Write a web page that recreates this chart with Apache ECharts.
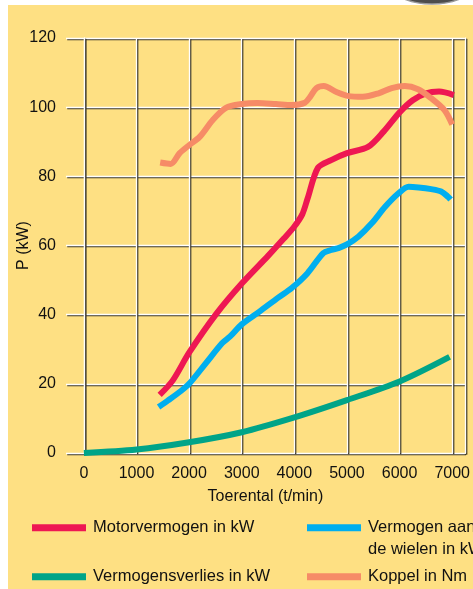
<!DOCTYPE html>
<html>
<head>
<meta charset="utf-8">
<script src="https://cdn.jsdelivr.net/npm/echarts@6/dist/echarts.min.js"></script>
<style>
html,body{margin:0;padding:0;background:#fff;width:473px;height:589px;overflow:hidden;}
#bg{position:absolute;left:8px;top:5px;width:465px;height:584px;background:#FEE083;}
#chart{position:absolute;left:0;top:0;width:473px;height:589px;}
</style>
</head>
<body>
<div id="bg"></div>
<div id="chart"></div>
<script>
// ---- data ----
const xTicks = [0, 1000, 2000, 3000, 4000, 5000, 6000, 7000];

const motorRpm = [1440, 1690, 2000, 2520, 3000, 3500, 3800, 4000, 4150, 4250, 4450, 4700, 5000, 5400, 5700, 6000, 6250, 6500, 6750, 7030];
const motorKw  = [16.8, 21, 29, 40.3, 49, 57, 62, 65.5, 69, 73.5, 82.5, 84.7, 86.7, 88.5, 93, 98.5, 102, 104, 104.5, 103.5];

const wheelRpm = [1420, 1600, 1850, 2000, 2320, 2630, 2780, 3000, 3330, 3700, 3950, 4250, 4550, 4700, 4850, 5000, 5220, 5470, 5725, 5980, 6170, 6360, 6600, 6790, 6920, 6970];
const wheelKw  = [13.3, 15.2, 18, 20, 26, 31.8, 33.7, 37.2, 40.8, 45, 47.7, 52, 57.8, 58.7, 59.3, 60.3, 62.6, 66.4, 71.2, 75.1, 77, 76.8, 76.3, 75.6, 74.1, 73.3];

const lossRpm = [0, 1000, 2000, 3000, 4000, 5000, 6000, 6950];
const lossKw  = [0, 1, 3.1, 6, 10.3, 15.3, 20.7, 27.8];

const torqueRpm = [1450, 1650, 1820, 2000, 2200, 2450, 2700, 3000, 3300, 3650, 3950, 4200, 4300, 4420, 4560, 4800, 5030, 5300, 5600, 5850, 6100, 6350, 6600, 6850, 7000];
const torqueNm  = [84, 83.6, 86.7, 89, 91.4, 96.3, 99.8, 100.9, 101.2, 100.9, 100.6, 101.3, 103, 105.5, 106.1, 104.4, 103.2, 103, 104, 105.5, 106.1, 105.2, 102.6, 99.2, 95];

const names = ['Motorvermogen in kW', 'Vermogen aan de wielen in kW', 'Vermogensverlies in kW', 'Koppel in Nm'];
const colors = ['#EE1753', '#00AEEF', '#00A488', '#F68B67'];

function zip(a, b) { return a.map((v, i) => [v, b[i]]); }

const gridLine = {
  color: '#ffffff', width: 1.3,
  shadowColor: 'rgba(50,45,35,0.95)', shadowBlur: 0, shadowOffsetX: 1.2, shadowOffsetY: 1.2
};
const FONT = '"Liberation Sans", Arial, sans-serif';

const chart = echarts.init(document.getElementById('chart'), null, { renderer: 'canvas' });

function mkSeries(i, data, z) {
  return {
    name: names[i], type: 'line', data: data, smooth: 0.3,
    symbol: 'none', showSymbol: false, z: z,
    lineStyle: { width: 6, color: colors[i], cap: 'butt' },
    itemStyle: { color: colors[i] }
  };
}

function mkLegend(name, left, top) {
  return {
    data: [{ name: name, icon: 'rect' }],
    left: left, top: top, padding: 0, itemWidth: 54, itemHeight: 7,
    selectedMode: false,
    formatter: function (n) { return n === names[1] ? '\nVermogen aan\nde wielen in kW' : n; },
    textStyle: { fontFamily: FONT, fontSize: 16.5, color: '#111', lineHeight: 22, padding: [0, 0, 0, 2] }
  };
}

chart.setOption({
  animation: false,
  backgroundColor: 'transparent',
  textStyle: { fontFamily: FONT },
  grid: { left: 66, right: 6, top: 38, bottom: 136, containLabel: false },
  xAxis: {
    type: 'value', min: -340, max: 7240,
    name: 'Toerental (t/min)', nameLocation: 'middle', nameGap: 36,
    nameTextStyle: { fontFamily: FONT, fontSize: 16, color: '#111' },
    axisLine: { show: false },
    axisTick: { show: false, customValues: xTicks },
    axisLabel: { customValues: xTicks, margin: 13, fontFamily: FONT, fontSize: 16, color: '#111',
                 formatter: function (v) { return String(v); } },
    splitLine: { show: true, lineStyle: gridLine }
  },
  yAxis: [{
    type: 'value', min: 0, max: 120, interval: 20,
    name: 'P (kW)', nameLocation: 'middle', nameGap: 34, nameRotate: 90, nameMoveOverlap: false,
    nameTextStyle: { fontFamily: FONT, fontSize: 16, color: '#111' },
    axisLine: { show: true, lineStyle: gridLine },
    axisTick: { show: false },
    axisLabel: { margin: 10, fontFamily: FONT, fontSize: 16, color: '#111' },
    splitLine: { show: true, lineStyle: gridLine }
  }, {
    type: 'value', min: 0, max: 120, position: 'right',
    axisLine: { show: true, lineStyle: gridLine },
    axisTick: { show: false }, axisLabel: { show: false }, splitLine: { show: false }
  }],
  legend: [
    mkLegend(names[0], 32, 516.7),
    mkLegend(names[1], 307, 494.7),
    mkLegend(names[2], 32, 565.7),
    mkLegend(names[3], 307, 565.7)
  ],
  graphic: [{
    type: 'ellipse', silent: true, z: 100,
    shape: { cx: 432, cy: -11, rx: 37, ry: 15 },
    style: { fill: '#4d4d4d', stroke: '#9a9a9a', lineWidth: 1.5 }
  }],
  series: [
    mkSeries(2, zip(lossRpm, lossKw), 3),
    mkSeries(1, zip(wheelRpm, wheelKw), 4),
    mkSeries(0, zip(motorRpm, motorKw), 5),
    mkSeries(3, zip(torqueRpm, torqueNm), 6)
  ]
});
</script>
</body>
</html>
